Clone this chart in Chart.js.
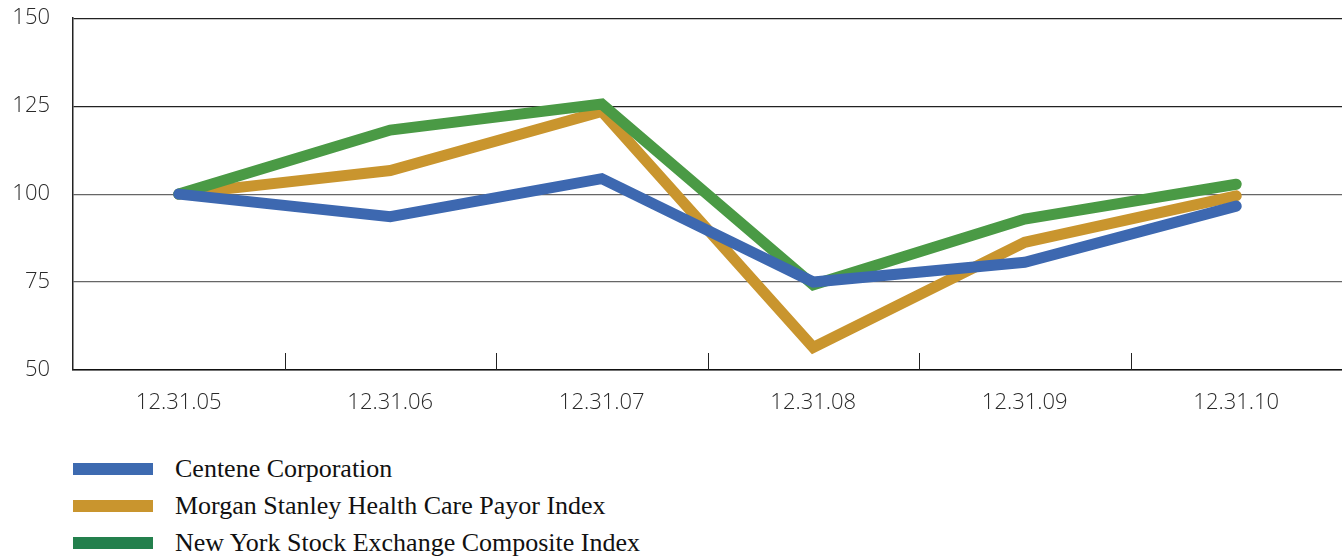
<!DOCTYPE html>
<html>
<head>
<meta charset="utf-8">
<script src="https://cdn.jsdelivr.net/npm/chart.js@4/dist/chart.umd.min.js"></script>
<style>
  html, body { margin: 0; padding: 0; background: #fff; overflow: hidden; }
  #wrap { position: absolute; left: 0; top: -18px; width: 1342px; height: 438px; }
  #legend { position: absolute; left: 73px; top: 450px; font-family: 'Liberation Serif', serif; font-size: 26px; color: #111; }
  .row { display: flex; align-items: center; height: 37px; }
  .sw { width: 80px; height: 12px; margin-right: 22px; }
</style>
</head>
<body>
<div id="wrap"><canvas id="chart"></canvas></div>
<div id="legend"></div>
<script>
const dates = ['12.31.05', '12.31.06', '12.31.07', '12.31.08', '12.31.09', '12.31.10'];
const centene = [100, 93.6, 104.4, 75, 80.6, 96.6];
const morganStanley = [100, 106.7, 123.5, 56.4, 86.3, 99.5];
const nyse = [100, 118.2, 125.6, 74.2, 92.9, 102.8];
const yTicks = [50, 75, 100, 125, 150];

const seriesNames = ['Centene Corporation', 'Morgan Stanley Health Care Payor Index', 'New York Stock Exchange Composite Index'];
const lineColors = ['#3D68B0', '#C9952E', '#4A9A45'];
const swatchColors = ['#3D6AB0', '#C9952E', '#23804D'];

const legend = document.getElementById('legend');
seriesNames.forEach((name, i) => {
  const row = document.createElement('div');
  row.className = 'row';
  row.innerHTML = '<div class="sw" style="background:' + swatchColors[i] + '"></div><span>' + name + '</span>';
  legend.appendChild(row);
});

// short tick marks between categories, drawn upward from the x axis
const innerTicks = {
  id: 'innerTicks',
  afterDatasetsDraw(chart) {
    const x = chart.scales.x, ctx = chart.ctx, bottom = chart.chartArea.bottom;
    ctx.save();
    ctx.strokeStyle = '#222';
    ctx.lineWidth = 1;
    for (let i = 0; i < dates.length - 1; i++) {
      const px = Math.round((x.getPixelForValue(i) + x.getPixelForValue(i + 1)) / 2) + 0.5;
      ctx.beginPath();
      ctx.moveTo(px, bottom - 17);
      ctx.lineTo(px, bottom);
      ctx.stroke();
    }
    ctx.restore();
  }
};

const common = { fill: false, pointRadius: 0, borderWidth: 11, borderCapStyle: 'round', borderJoinStyle: 'miter', tension: 0 };

new Chart(document.getElementById('chart'), {
  type: 'line',
  data: {
    labels: dates,
    datasets: [
      Object.assign({ label: seriesNames[0], data: centene, borderColor: lineColors[0], order: 0 }, common),
      Object.assign({ label: seriesNames[1], data: morganStanley, borderColor: lineColors[1], order: 2 }, common),
      Object.assign({ label: seriesNames[2], data: nyse, borderColor: lineColors[2], order: 1 }, common)
    ]
  },
  options: {
    responsive: true,
    maintainAspectRatio: false,
    animation: false,
    layout: { padding: 0 },
    plugins: { legend: { display: false }, tooltip: { enabled: false } },
    scales: {
      x: {
        offset: true,
        grid: { display: false },
        border: { color: '#111', width: 1.5 },
        ticks: { color: '#2a2a2a', padding: 12, font: { family: "'Open Sans'", size: 22, weight: 300 } },
        afterFit(scale) { scale.height = 50; }
      },
      y: {
        min: 50,
        max: 150,
        afterBuildTicks(scale) { scale.ticks = yTicks.map(v => ({ value: v })); },
        grid: { drawTicks: false, color: ctx => (ctx.tick && ctx.tick.value >= 125 ? '#222' : '#666'), lineWidth: 1.2 },
        border: { color: '#222', width: 1.5 },
        ticks: { color: '#2a2a2a', padding: 23, font: { family: "'Open Sans'", size: 22, weight: 300 } },
        afterFit(scale) { scale.width = 73; }
      }
    }
  },
  plugins: [innerTicks]
});
</script>
</body>
</html>
